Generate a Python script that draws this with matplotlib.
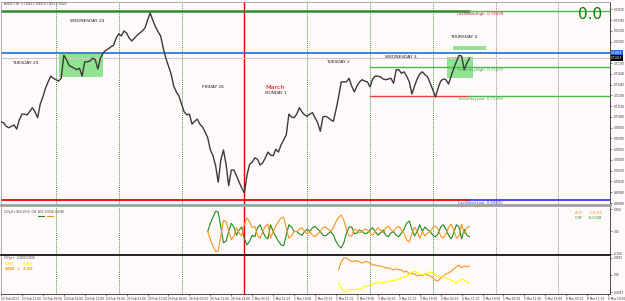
import numpy as np
import pandas as pd
import matplotlib.pyplot as plt
from matplotlib.patches import Rectangle

# AUDCHF H1 closes, bar 0 = 23 Feb 2021 03:00
close = [0.7093, 0.7092, 0.7087, 0.7085, 0.7087, 0.7089, 0.7083, 0.7096, 0.7104, 0.7104,
         0.7103, 0.7108, 0.7113, 0.7107, 0.7099, 0.7118, 0.7128, 0.7140, 0.7149, 0.7157,
         0.7154, 0.7152, 0.7150, 0.7154, 0.7186, 0.7180, 0.7172, 0.7170, 0.7168, 0.7166,
         0.7168, 0.7157, 0.7177, 0.7177, 0.7178, 0.7182, 0.7180, 0.7167, 0.7182, 0.7189,
         0.7193, 0.7195, 0.7198, 0.7200, 0.7210, 0.7216, 0.7213, 0.7220, 0.7217, 0.7210,
         0.7206, 0.7210, 0.7214, 0.7217, 0.7220, 0.7224, 0.7235, 0.7245, 0.7235, 0.7226,
         0.7219, 0.7213, 0.7196, 0.7182, 0.7171, 0.7160, 0.7143, 0.7135, 0.7129, 0.7118,
         0.7107, 0.7103, 0.7104, 0.7090, 0.7094, 0.7097, 0.7090, 0.7086, 0.7079, 0.7071,
         0.7054, 0.7046, 0.7032, 0.7009, 0.7040, 0.7054, 0.7034, 0.7004, 0.7026, 0.7026,
         0.7018, 0.7009, 0.7001, 0.6994, 0.7019, 0.7034, 0.7037, 0.7043, 0.7041, 0.7033,
         0.7036, 0.7043, 0.7051, 0.7047, 0.7046, 0.7055, 0.7051, 0.7061, 0.7068, 0.7075,
         0.7104, 0.7100, 0.7099, 0.7104, 0.7113, 0.7107, 0.7103, 0.7101, 0.7104, 0.7106,
         0.7099, 0.7092, 0.7080, 0.7100, 0.7101, 0.7099, 0.7096, 0.7094, 0.7110, 0.7128,
         0.7149, 0.7149, 0.7149, 0.7154, 0.7143, 0.7135, 0.7143, 0.7149, 0.7152, 0.7150,
         0.7149, 0.7142, 0.7153, 0.7157, 0.7157, 0.7156, 0.7153, 0.7152, 0.7153, 0.7154,
         0.7147, 0.7166, 0.7166, 0.7161, 0.7163, 0.7157, 0.7149, 0.7132, 0.7143, 0.7153,
         0.7160, 0.7163, 0.7159, 0.7156, 0.7147, 0.7138, 0.7128, 0.7140, 0.7150, 0.7153,
         0.7152, 0.7146, 0.7157, 0.7168, 0.7177, 0.7186, 0.7185, 0.7166, 0.7175, 0.7182]

# CCFp oscillator, starts at bar 79
osc_start = 79
aud_osc = [0, -0.11, -0.19, -0.27, -0.26, -0.06, 0.15, 0.13, 0, -0.11,
           -0.06, 0.05, -0.02, -0.06, 0.10, 0.18, 0.13, 0.05, 0.07, -0.05,
           -0.09, 0, 0.07, 0.10, -0.09, 0, 0.07, 0.13, 0.18, 0.19,
           0.05, -0.09, -0.06, 0, 0, 0.03, 0.05, 0, -0.03, 0,
           -0.05, -0.07, -0.03, 0, 0.05, 0.06, 0.03, 0, 0.05, 0.13,
           0.19, 0.22, 0.15, 0.02, -0.06, -0.06, 0.03, 0.02, -0.02, 0,
           0.03, 0.02, -0.02, -0.05, 0, 0.05, 0.02, -0.02, 0.05, 0.07,
           0.02, 0, 0.05, 0.07, 0.02, -0.03, -0.11, -0.14, -0.03, 0.06,
           0, -0.09, 0, -0.06, -0.02, 0, 0.05, 0.07, 0.03, -0.06,
           -0.09, -0.03, 0.05, 0.10, 0.02, -0.09, -0.06, 0.10, -0.03, 0.05,
           0.07]
chf_osc = [0, 0.11, 0.19, 0.27, 0.26, 0.06, -0.15, -0.13, 0, 0.11,
           0.06, -0.05, 0.02, 0.06, -0.10, -0.18, -0.13, -0.05, -0.07, 0.05,
           0.09, 0, -0.07, -0.10, 0.09, 0, -0.07, -0.13, -0.18, -0.19,
           -0.05, 0.09, 0.06, 0, 0, -0.03, -0.05, 0, 0.03, 0,
           0.05, 0.07, 0.03, 0, -0.05, -0.06, -0.03, 0, -0.05, -0.13,
           -0.19, -0.22, -0.15, -0.02, 0.06, 0.06, -0.03, -0.02, 0.02, 0,
           -0.03, -0.02, 0.02, 0.05, 0, -0.05, -0.02, 0.02, -0.05, -0.07,
           -0.02, 0, -0.05, -0.07, -0.02, 0.03, 0.11, 0.14, 0.03, -0.06,
           0, 0.09, 0, 0.06, 0.02, 0, -0.05, -0.07, -0.03, 0.06,
           0.09, 0.03, -0.05, -0.10, -0.02, 0.09, 0.06, -0.10, 0.03, -0.05,
           -0.07]

# CCFp++ strength, starts at bar 129
str_start = 129
aud_str = [0.0016, 0.0041, 0.0053, 0.0053, 0.0047, 0.0041, 0.0044, 0.0044, 0.0041, 0.0037,
           0.0041, 0.0041, 0.0037, 0.0031, 0.0031, 0.0028, 0.0028, 0.0025, 0.0022, 0.0022,
           0.0019, 0.0016, 0.0019, 0.0016, 0.0016, 0.0009, 0.0012, 0.0003, 0.0006, 0.0003,
           -0.0003, 0, -0.0003, 0.0003, 0, -0.0003, -0.0009, -0.0016, -0.0019, -0.0009,
           -0.0003, 0.0003, 0.0006, 0.0012, 0.0019, 0.0025, 0.0031, 0.0022, 0.0028, 0.0025,
           0.0028]
chf_str = [-0.0022, -0.0041, -0.0050, -0.0053, -0.0047, -0.0044, -0.0047, -0.0044, -0.0044, -0.0041,
           -0.0034, -0.0034, -0.0031, -0.0028, -0.0025, -0.0025, -0.0025, -0.0022, -0.0022, -0.0019,
           -0.0019, -0.0016, -0.0016, -0.0012, -0.0009, -0.0006, -0.0003, 0.0003, 0.0009, 0.0012,
           0.0009, 0.0003, 0, 0.0003, 0.0009, 0.0009, 0.0006, 0, -0.0003, -0.0003,
           -0.0006, -0.0009, -0.0012, -0.0016, -0.0019, -0.0025, -0.0019, -0.0012, -0.0016, -0.0022,
           -0.0025]

last_week_high = 0.72478
last_week_low = 0.69835
yest_high = 0.71697
yest_low = 0.71293
blue_level = 0.71893
bid = 0.71823
yest_start = 141   # bar of 3 Mar 00:00
now_bar = 179

day_labels = [("TUESDAY 23", 4.4, 0.71753), ("WEDNESDAY 24", 26.5, 0.72339),
              ("FRIDAY 26", 76.9, 0.71418), ("TUESDAY 2", 124.3, 0.71767),
              ("WEDNESDAY 3", 146.8, 0.71837), ("THURSDAY 4", 171.6, 0.72116)]
boxes = [(22.3, 38.8, 0.71558, 0.71893), (170.5, 180.4, 0.71544, 0.71837),
         (172.8, 185.4, 0.71934, 0.71990)]

# bar times (weekends skipped)
times = pd.date_range('2021-02-23 03:00', '2021-03-12 23:00', freq='h')
times = times[times.weekday < 5]
xr = (-0.19, 232.7)

bg = '#fffafa'
fig = plt.figure(figsize=(6.25, 3.01), dpi=100, facecolor=bg)
L, W = 0.5/625, 609.5/625
ax = fig.add_axes([L, 96/301, W, 203/301], facecolor=bg)
ax1 = fig.add_axes([L, 46/301, W, 48/301], facecolor=bg)
ax2 = fig.add_axes([L, 7/301, W, 38/301], facecolor=bg)

x = np.arange(len(close))

# day separators
for a in (ax, ax1, ax2):
    for i, t in enumerate(times):
        if t.hour == 0 and xr[0] < i < xr[1]:
            if t.day == 1:
                a.axvline(i, color='#e00000', lw=1.0, zorder=1)
            elif i > now_bar:
                a.axvline(i, color='#808080', lw=0.6, ls=(0, (1, 1)), zorder=1)
            else:
                a.axvline(i, color='#4f944f', lw=0.7, ls=(0, (1, 1)), zorder=1)
    a.set_xlim(*xr)

# main price panel
for b in boxes:
    ax.add_patch(Rectangle((b[0], b[2]), b[1]-b[0], b[3]-b[2], fc='#7fe07f', ec='none', alpha=0.85, zorder=2))
ax.axhline(bid, color='#c8c8c8', lw=0.8, zorder=2)
ax.axhline(blue_level, color='#1f6fd6', lw=1.2, zorder=2)
ax.plot([xr[0], now_bar], [last_week_high]*2, color='#2e8b2e', lw=1.8, zorder=2)
ax.plot([now_bar, xr[1]], [last_week_high]*2, color='#4cbb4c', lw=1.0, zorder=2)
ax.plot([xr[0], now_bar], [last_week_low]*2, color='#ee0000', lw=1.3, zorder=2)
ax.plot([now_bar, xr[1]], [last_week_low]*2, color='#3a3aff', lw=1.3, zorder=2)
ax.plot([yest_start, xr[1]], [yest_high]*2, color='#4cbb4c', lw=1.0, zorder=2)
ax.plot([yest_start, now_bar], [yest_low]*2, color='#ee4040', lw=1.0, zorder=2)
ax.plot([now_bar, xr[1]], [yest_low]*2, color='#4cbb4c', lw=1.0, zorder=2)
ax.plot(x, close, color='#3a3a3a', lw=1.0, zorder=3)

for txt, bx, py in day_labels:
    ax.text(bx, py, txt, fontsize=3.2, color='#202020', va='center', ha='left', zorder=4)
ax.text(104.8, 0.71418, "March", fontsize=4.6, color='#e00000', va='center', ha='center', zorder=4)
ax.text(104.8, 0.71335, "MONDAY 1", fontsize=3.0, color='#202020', va='center', ha='center', zorder=4)
ax.text(174.3, 0.72437, "LastWeekHigh  %.5f" % last_week_high, fontsize=2.8, color='#8b3a3a', va='center', zorder=4)
ax.text(174.3, 0.71655, "YesterdayHigh  %.5f" % yest_high, fontsize=2.8, color='#3cb043', va='center', zorder=4)
ax.text(174.6, 0.71251, "YesterdayLow  %.5f" % yest_low, fontsize=2.8, color='#3cb043', va='center', zorder=4)
ax.text(174.6, 0.69795, "LastWeekLow  %.5f" % last_week_low, fontsize=2.8, color='#4040ff', va='center', zorder=4)
ax.text(225, 0.72423, "0.0", fontsize=11, color='#008000', va='center', ha='center', zorder=4)
ax.text(0.006, 0.988, "AUDCHF,H1  0.71864 0.71890 0.71813 0.71823", transform=ax.transAxes,
        fontsize=1.9, color='#303030', va='center')

ax.set_ylim(0.697721, 0.72604)
yt = [round(0.6980 + 0.0015*k, 4) for k in range(19) if k != 14]
ax.set_yticks(yt)
ax.set_yticklabels(["%.5f" % v for v in yt])
ax.text(1.002, blue_level, "%.5f" % blue_level, transform=ax.get_yaxis_transform(), fontsize=2,
        color='white', va='center', clip_on=False, bbox=dict(fc='#1f6fd6', ec='none', pad=0.4))
ax.text(1.002, bid, "%.5f" % bid, transform=ax.get_yaxis_transform(), fontsize=2,
        color='white', va='center', clip_on=False, bbox=dict(fc='black', ec='none', pad=0.4))

# CCFp oscillator panel
xo = np.arange(osc_start, osc_start + len(aud_osc))
ax1.plot(xo, chf_osc, color='#1f8b1f', lw=0.8, zorder=3)
ax1.plot(xo, aud_osc, color='#f7941d', lw=0.8, zorder=3)
ax1.set_ylim(-0.314, 0.327)
ax1.set_yticks([0.294, 0, -0.294])
ax1.set_yticklabels(["0.294", "0.00", "-0.294"])
ax1.text(0.005, 0.9, "CCFp-H1 (36,6,H/H1)  CHF  AUD  0.0748 -0.0748", transform=ax1.transAxes,
         fontsize=1.8, color='#303030', va='center')
ax1.plot([0.062, 0.072], [0.82, 0.82], transform=ax1.transAxes, color='#1f8b1f', lw=0.8)
ax1.plot([0.076, 0.086], [0.82, 0.82], transform=ax1.transAxes, color='#f7941d', lw=0.8)
ax1.text(0.943, 0.88, "AUD      0.0748", transform=ax1.transAxes, fontsize=2.5, color='#f7941d', va='center')
ax1.text(0.943, 0.78, "CHF     -0.0748", transform=ax1.transAxes, fontsize=2.5, color='#1f8b1f', va='center')

# CCFp++ panel
xs = np.arange(str_start, str_start + len(aud_str))
ax2.plot(xs, aud_str, color='#f7941d', lw=0.8, zorder=3)
ax2.plot(xs, chf_str, color='#ffff00', lw=0.8, zorder=3)
ax2.set_ylim(-0.0059, 0.0059)
ax2.set_yticks([0.0053, 0, -0.0053])
ax2.set_yticklabels(["0.0053", "0.00", "-0.0053"])
ax2.text(0.005, 0.94, "CCFp++  -0.0000 0.0000", transform=ax2.transAxes, fontsize=1.8, color='#303030', va='center')
ax2.text(0.008, 0.8, "CHF  -  -3.82", transform=ax2.transAxes, fontsize=2.8, color='#ffe600',
         fontweight='bold', va='center')
ax2.text(0.008, 0.67, "AUD  =  3.83", transform=ax2.transAxes, fontsize=2.8, color='#f7941d',
         fontweight='bold', va='center')

# date axis
ticks = list(range(0, int(xr[1]) + 1, 8))
tick_labels = []
for i in ticks:
    t = times[i]
    tick_labels.append("23 Feb 2021" if i == 0 else "%d %s %s" % (t.day, t.strftime('%b'), t.strftime('%H:%M')))
ax2.set_xticks(ticks)
ax2.set_xticklabels(tick_labels, ha='left')
ax2.tick_params(axis='x', labelsize=2.1, length=1.5, width=0.4, pad=1, colors='#303030')

for a in (ax, ax1, ax2):
    a.yaxis.tick_right()
    a.tick_params(axis='y', labelsize=2.0, length=1.5, width=0.4, pad=1, colors='#303030')
    for s in a.spines.values():
        s.set_linewidth(0.6)
        s.set_color('#303030')
for a in (ax, ax1):
    a.set_xticks([])
ax.spines['bottom'].set_color('#a0a0a0')
ax.spines['bottom'].set_linewidth(2)
ax.spines['top'].set_color('#a0a0a0')
ax.spines['left'].set_color('#a0a0a0')
ax1.spines['top'].set_visible(False)
ax1.spines['bottom'].set_linewidth(1.2)
ax1.spines['bottom'].set_color('black')
ax1.spines['left'].set_color('#a0a0a0')
ax2.spines['top'].set_visible(False)
ax2.spines['left'].set_color('#a0a0a0')

fig.savefig('out.png', dpi=100, facecolor=bg)
